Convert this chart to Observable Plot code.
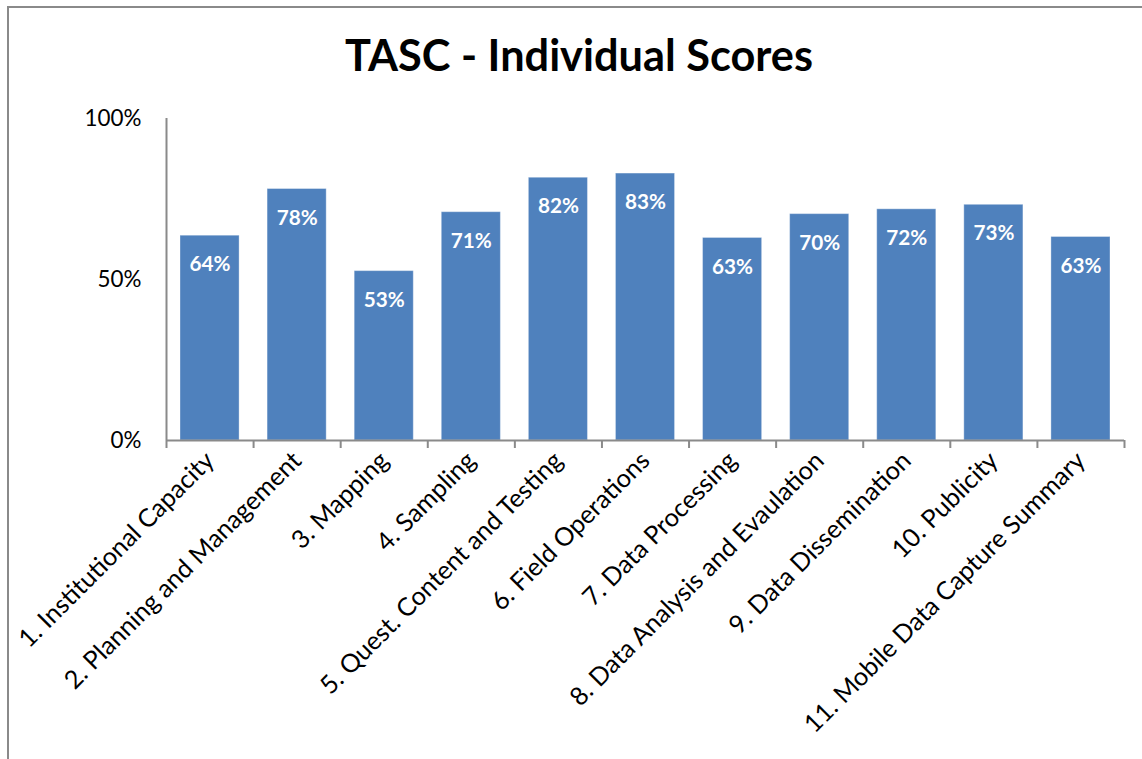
<!DOCTYPE html>
<html>
<head>
<meta charset="utf-8">
<script src="https://cdn.jsdelivr.net/npm/d3@7"></script>
<script src="https://cdn.jsdelivr.net/npm/@observablehq/plot@0.6"></script>
<style>
  html, body { margin: 0; padding: 0; background: #fff; overflow: hidden; }
  #wrap { position: relative; width: 1142px; height: 759px; overflow: hidden; }
  #border { position: absolute; left: 7px; top: 6px; width: 1300px; height: 900px; border: 2px solid #8a8a8a; box-sizing: border-box; }
  #title { position: absolute; left: 0; width: 1158px; text-align: center; font-family: Lato, "Open Sans", sans-serif; font-weight: 700; line-height: 1; color: #000; white-space: nowrap; }
  #chart { position: absolute; left: 0; top: 0; }
</style>
</head>
<body>
<div id="wrap">
  <div id="border"></div>
  <div id="chart"></div>
  <div id="title">TASC - Individual Scores</div>
</div>
<script>
const titleText = "TASC - Individual Scores";
const categories = [
  "1. Institutional Capacity",
  "2. Planning and Management",
  "3. Mapping",
  "4. Sampling",
  "5. Quest. Content and Testing",
  "6. Field Operations",
  "7. Data Processing",
  "8. Data Analysis and Evaulation",
  "9. Data Dissemination",
  "10. Publicity",
  "11. Mobile Data Capture Summary"
];
const scores = [0.636, 0.781, 0.526, 0.709, 0.816, 0.829, 0.629, 0.703, 0.718, 0.732, 0.632];
const yTicks = [0, 0.5, 1];

const FONT = "Lato";
function fit(text, weight, target) {
  const c = document.createElement("canvas").getContext("2d");
  c.font = `${weight} 100px ${FONT}`;
  return 100 * target / c.measureText(text).width;
}
const titleSize = fit(titleText, 700, 468);
const tickSize = fit("100%", 400, 57);
const catSize = fit(categories[10], 400, 385);
const valSize = fit("83%", 700, 41);

const t = document.getElementById("title");
t.style.fontSize = titleSize + "px";
t.style.top = (71 - 0.887 * titleSize) + "px";

const data = categories.map((c, i) => ({i, label: c, value: scores[i]}));
const fmt = d3.format(".0%");
const AX = "#8a8a8a";

const chart = Plot.plot({
  width: 1142,
  height: 759,
  marginLeft: 166,
  marginRight: 18,
  marginTop: 118,
  marginBottom: 319,
  style: {fontFamily: FONT, background: "transparent", color: "#000"},
  x: {domain: [0, categories.length], axis: null, label: null},
  y: {domain: [0, 1], axis: null, label: null},
  marks: [
    Plot.rectY(data, {x: "i", interval: 1, y: "value", fill: "#4F81BD", insetLeft: 14, insetRight: 14, stroke: "#ffffff", strokeOpacity: 0.35, strokeWidth: 1}),
    Plot.text(data, {x: d => d.i + 0.5, y: "value", text: d => fmt(d.value), fill: "white", fontWeight: 700, fontSize: valSize, dy: 29}),
    Plot.axisY({ticks: yTicks, tickFormat: fmt, tickSize: 0, tickPadding: 25, fontSize: tickSize, fill: "#000", label: null}),
    Plot.axisX({ticks: d3.range(categories.length + 1), tickFormat: () => "", tickSize: 8, stroke: AX, strokeWidth: 2, strokeOpacity: 1, label: null}),
    Plot.axisX({ticks: d3.range(categories.length).map(i => i + 0.5), tickFormat: v => categories[Math.floor(v)], tickSize: 0, tickPadding: 16, tickRotate: -45, fontSize: catSize, fill: "#000", label: null}),
    Plot.ruleX([0], {stroke: AX, strokeWidth: 2}),
    Plot.ruleY([0], {stroke: AX, strokeWidth: 2})
  ]
});
document.getElementById("chart").appendChild(chart);
</script>
</body>
</html>
